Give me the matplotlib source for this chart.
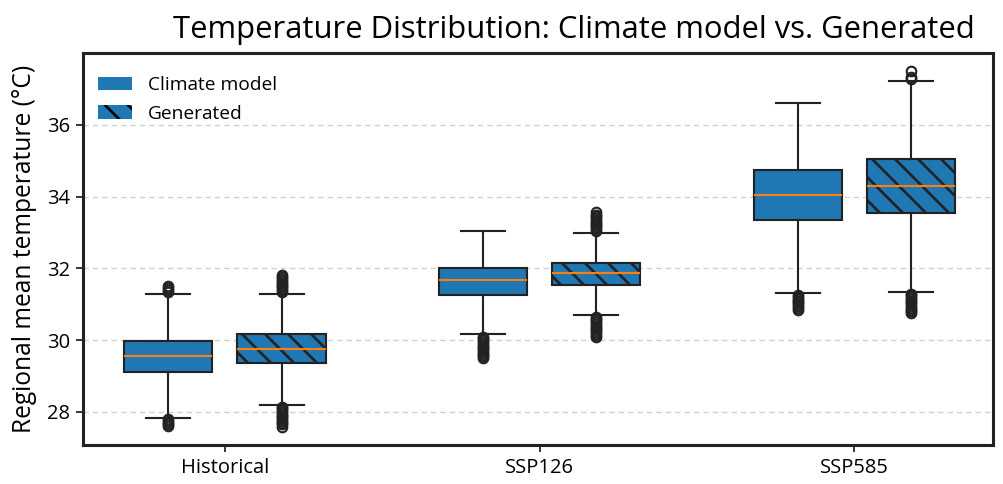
import numpy as np
import matplotlib.pyplot as plt
from matplotlib.patches import Patch

plt.rcParams['font.family'] = ['Open Sans', 'DejaVu Sans']

scenarios = ['Historical', 'SSP126', 'SSP585']

# box stats (deg C)
clim_med = [29.57, 31.69, 34.04]
clim_q1 = [29.10, 31.26, 33.35]
clim_q3 = [29.98, 32.02, 34.73]
clim_lo = [27.83, 30.16, 31.31]
clim_hi = [31.28, 33.05, 36.62]

gen_med = [29.76, 31.86, 34.30]
gen_q1 = [29.36, 31.54, 33.55]
gen_q3 = [30.16, 32.15, 35.04]
gen_lo = [28.20, 30.69, 31.34]
gen_hi = [31.30, 33.00, 37.23]

clim_fliers = [
    [31.35, 31.40, 31.45, 31.50, 27.80, 27.75, 27.70, 27.65, 27.60],
    [30.10, 30.05, 30.00, 29.95, 29.90, 29.85, 29.80, 29.75, 29.70, 29.65,
     29.60, 29.55, 29.50],
    [31.25, 31.20, 31.15, 31.10, 31.05, 31.00, 30.95, 30.90, 30.85],
]
gen_fliers = [
    [31.35, 31.40, 31.45, 31.50, 31.55, 31.60, 31.65, 31.70, 31.75, 31.82,
     28.15, 28.10, 28.05, 28.00, 27.95, 27.90, 27.85, 27.80, 27.75, 27.70,
     27.65, 27.58],
    [33.05, 33.10, 33.15, 33.20, 33.25, 33.30, 33.35, 33.40, 33.45, 33.50,
     33.58, 30.65, 30.60, 30.55, 30.50, 30.45, 30.40, 30.35, 30.30, 30.25,
     30.20, 30.15, 30.10],
    [37.28, 37.32, 37.50, 31.30, 31.25, 31.20, 31.15, 31.10, 31.05, 31.00,
     30.95, 30.90, 30.85, 30.80, 30.75],
]


def make_stats(med, q1, q3, lo, hi, fl):
    return [dict(med=m, q1=a, q3=b, whislo=l, whishi=h, fliers=f)
            for m, a, b, l, h, f in zip(med, q1, q3, lo, hi, fl)]


clim_stats = make_stats(clim_med, clim_q1, clim_q3, clim_lo, clim_hi, clim_fliers)
gen_stats = make_stats(gen_med, gen_q1, gen_q3, gen_lo, gen_hi, gen_fliers)

plt.rcParams['hatch.linewidth'] = 1.4
edge = '#222222'
blue = '#1f77b4'
hatch = '\\\\'   # two backslashes -> denser lines

fig = plt.figure(figsize=(1003 / 138, 484 / 138), dpi=138)
ax = fig.add_axes([0.083, 0.081, 0.907, 0.809])

x = np.arange(len(scenarios))
common = dict(
    widths=0.28, patch_artist=True, manage_ticks=False,
    boxprops=dict(facecolor=blue, edgecolor=edge, linewidth=1.1),
    whiskerprops=dict(color=edge, linewidth=1.1),
    capprops=dict(color=edge, linewidth=1.1),
    medianprops=dict(color='#ff7f0e', linewidth=1.1),
    flierprops=dict(marker='o', markersize=5, markerfacecolor='none',
                    markeredgecolor=edge, markeredgewidth=1.1),
)
ax.bxp(clim_stats, positions=x - 0.18, **common)
b2 = ax.bxp(gen_stats, positions=x + 0.18, **common)
for box in b2['boxes']:
    box.set_hatch(hatch)

ax.set_xlim(-0.45, 2.44)
ax.set_xticks(x)
ax.set_xticklabels(scenarios, fontsize=10.5)
ax.set_yticks([28, 30, 32, 34, 36])
ax.tick_params(axis='y', labelsize=10.5)
ax.grid(axis='y', linestyle=(0, (4, 3)), color='#d0d0d0', linewidth=0.7)
ax.set_axisbelow(True)
for s in ax.spines.values():
    s.set_linewidth(1.6)
    s.set_color(edge)

ax.set_ylabel('Regional mean temperature (°C)', fontsize=12.8, labelpad=5)
ax.set_title('Temperature Distribution: Climate model vs. Generated',
             fontsize=16.2, pad=8, x=0.539)

handles = [Patch(facecolor=blue, label='Climate model'),
           Patch(facecolor=blue, hatch=hatch, label='Generated')]
ax.legend(handles=handles, loc='upper left', bbox_to_anchor=(-0.003, 0.985),
          frameon=False, fontsize=10, handlelength=1.8, labelspacing=0.55)

fig.savefig('out.png', dpi=138)
